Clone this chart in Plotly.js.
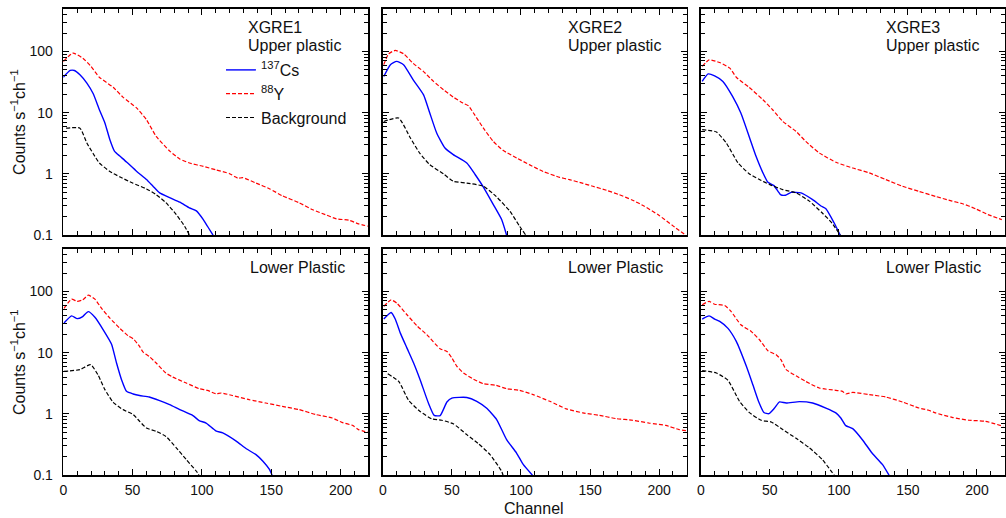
<!DOCTYPE html>
<html>
<head>
<meta charset="utf-8">
<script src="https://cdn.plot.ly/plotly-3.0.1.min.js"></script>
<style>html,body{margin:0;padding:0;background:#fff;}#plot{width:1006px;height:518px;}</style>
</head>
<body>
<div id="plot"></div>
<script>
// ---------- DATA ----------
const panelTitles = [["XGRE1","Upper plastic"],["XGRE2","Upper plastic"],["XGRE3","Upper plastic"],["Lower Plastic"],["Lower Plastic"],["Lower Plastic"]];
const seriesNames = ["<sup>137</sup>Cs","<sup>88</sup>Y","Background"];
const xTickVals = [0,50,100,150,200];
const yTickVals = [0.1,1,10,100];
const yTickText = ["0.1","1","10","100"];

// Panel 1: XGRE1 upper plastic
const cs1_x = [0,5,8,12,17,21.6,26,30,33.6,37,41,45.6,53,60,64.7,69.5,76.7,84,91,96,101,104,108];
const cs1_y = [38,49,49,41.7,30.5,20.4,11.2,6.8,3.63,2.34,1.94,1.57,1.1,0.81,0.63,0.49,0.41,0.346,0.28,0.25,0.18,0.14,0.1];
const y1_x = [0,7,14,20,26,36,43,53,60,67,77,84,91,101,110,120,123.5,126,129.5,139,149,158,170,180,189,197,206,213,220];
const y1_y = [68.7,94,78,57,38,26,18,11.9,7.7,4.1,2.34,1.76,1.51,1.33,1.17,1.01,0.91,0.85,0.87,0.71,0.57,0.44,0.34,0.26,0.217,0.185,0.176,0.153,0.14];
const bg1_x = [2,12,17,21.6,26,33.6,41,50,60,67,74,81.5,87.5,91];
const bg1_y = [5.6,5.6,3.2,2.14,1.51,1.1,0.89,0.71,0.57,0.46,0.34,0.217,0.14,0.1];

// Panel 2: XGRE2 upper plastic
const cs2_x = [0.7,5.5,10,15,22,29.5,34,39,45,51,60.8,66.8,72.8,80,86,89.6];
const cs2_y = [39,61,69,61,34.5,19.6,9.9,4.66,2.65,2.07,1.51,0.98,0.61,0.316,0.18,0.1];
const y2_x = [0.7,4.3,9,15,22,29.5,36.7,44,51,58,62,65.6,72.8,80,87,97,106,116,128,135,145,152,162,171,180,189,200,210,219.3];
const y2_y = [61,92,104,92,64,47,32.5,23.7,18,14.4,13,9.9,5.6,3.4,2.43,1.82,1.42,1.1,0.88,0.81,0.7,0.63,0.54,0.46,0.38,0.3,0.21,0.142,0.1];
const bg2_x = [0.7,11.5,20,27,34,44,51,60.8,72.8,82,92,99,103.5];
const bg2_y = [7.2,8.2,3.86,2.14,1.42,1.0,0.76,0.71,0.63,0.43,0.246,0.14,0.1];

// Panel 3: XGRE3 upper plastic
const cs3_x = [1,5.3,10,16,23,29,35,40,45,48.6,53,57.7,61.3,65.4,72.6,81,87,90.6,96.6,101];
const cs3_y = [32.5,43,40,32.5,18.5,9.9,4.1,1.94,1.04,0.73,0.645,0.46,0.45,0.5,0.49,0.38,0.3,0.27,0.158,0.1];
const y3_x = [1,6,13.7,21,25.7,35,45,52,59.4,69,76,86,98,110,122,134,146,158,170,182,189,199,208,218];
const y3_y = [57,73,66,53.5,38,26,16.3,11.2,7.2,4.96,3.4,2.19,1.55,1.25,1.04,0.81,0.63,0.52,0.43,0.36,0.33,0.27,0.217,0.18];
const bg3_x = [1,11.3,18.5,27,35,42.5,50,59.4,69,78.6,88,95,101];
const bg3_y = [5.3,4.85,3.2,1.51,1.01,0.81,0.67,0.555,0.49,0.36,0.23,0.158,0.1];

// Panel 4: XGRE1 lower plastic
const cs4_x = [0.5,6,10,14,18,22.8,28.8,34.8,38.4,42,45.6,50.4,55,62,69.5,76.7,84,93.5,98,103,110,115,124.7,132,139,144,148.7,150.6];
const cs4_y = [30.5,40,36,39,47,38,23.7,13.8,6.8,3.63,2.34,2.12,2.0,1.89,1.65,1.42,1.18,0.94,0.78,0.71,0.53,0.49,0.36,0.27,0.217,0.169,0.124,0.1];
const y4_x = [0.5,6,10,14,18,22.8,27.6,33.6,40.8,46.8,50.4,55,57.6,62,67,74,79,88.7,98,104,110,114,122,134,146,158,170,182,194,201,209,213,220];
const y4_y = [53,75,69,73,87,75,53,36.7,25,18.9,16.9,12.7,10.2,8.7,6.8,4.66,4.0,3.2,2.59,2.43,2.14,2.2,2.0,1.71,1.51,1.33,1.18,0.98,0.86,0.73,0.645,0.555,0.5];
const bg4_x = [0.5,12,19.7,25,30,36,43,50.4,55,60,67,74,81.5,88.7,96,97.8];
const bg4_y = [4.96,5.3,6.4,4.36,2.5,1.55,1.18,0.98,0.76,0.59,0.52,0.43,0.28,0.18,0.116,0.1];

// Panel 5: XGRE2 lower plastic
const cs5_x = [0.7,6,9,12.7,17.5,22.3,27,33,37.2,41.5,46.4,50,60.8,68,75,82.4,89.6,96.8,101.6,108.3];
const cs5_y = [35.5,45.5,35.5,20.9,11.9,6.8,3.63,1.51,0.95,0.94,1.57,1.82,1.86,1.61,1.25,0.81,0.38,0.23,0.15,0.1];
const y5_x = [0.7,6,10.3,17.5,24.7,32,41.5,46.4,50,53.6,58.4,65.6,72.8,82,89.6,99,108.8,120.8,132.8,144.8,156.8,168.8,180.8,192.8,204.8,214.5,220];
const y5_y = [57,73,64,41.7,27.6,19.6,11.6,10.5,8.2,6.0,4.66,3.7,3.12,2.93,2.59,2.43,2.07,1.61,1.21,1.04,0.95,0.84,0.79,0.71,0.65,0.555,0.53];
const bg5_x = [3.6,11.5,18.7,27,35.5,42.7,51,60.8,69,77.6,86,87];
const bg5_y = [4.55,3.4,1.67,1.1,0.83,0.79,0.69,0.46,0.33,0.217,0.116,0.1];

// Panel 6: XGRE3 lower plastic
const cs6_x = [1,6,10,13.7,19.7,25.7,33,37.7,42,45.7,49.3,53.4,57,61.8,71.4,81,90.6,97.8,101.4,105,110,117,124,131.5,136.3];
const cs6_y = [35.5,40,35.5,32.5,25,15.3,6.0,3.0,1.57,1.06,1.01,1.25,1.57,1.51,1.59,1.51,1.25,1.04,0.86,0.645,0.575,0.38,0.23,0.15,0.1];
const y6_x = [1,6,10,17.3,22,29,36.5,42.5,48.6,54.6,58,61.8,69,76,85.8,97.8,102.6,105,110,122,134,146,158,165,170,182,194,206,219];
const y6_y = [61,69,62,59,47,28.6,22.3,16.3,10.8,9.3,7.7,5.3,4.2,3.4,2.65,2.43,2.34,2.12,2.25,2.07,1.89,1.57,1.25,1.15,1.04,0.88,0.79,0.76,0.63];
const bg6_x = [1,11.3,19.7,28,35,43.7,51,59.4,69,78.6,88,96.6];
const bg6_y = [5.1,4.66,3.54,1.61,1.06,0.79,0.74,0.555,0.4,0.28,0.18,0.1];

// ---------- LAYOUT / STYLE ----------
const W = 1006, H = 518;
const px = v => v / W;
const py = v => 1 - v / H;
const FONT = "Liberation Sans, Arial, Helvetica, sans-serif";

const panels = [
  {cs:[cs1_x,cs1_y], y:[y1_x,y1_y], bg:[bg1_x,bg1_y]},
  {cs:[cs2_x,cs2_y], y:[y2_x,y2_y], bg:[bg2_x,bg2_y]},
  {cs:[cs3_x,cs3_y], y:[y3_x,y3_y], bg:[bg3_x,bg3_y]},
  {cs:[cs4_x,cs4_y], y:[y4_x,y4_y], bg:[bg4_x,bg4_y]},
  {cs:[cs5_x,cs5_y], y:[y5_x,y5_y], bg:[bg5_x,bg5_y]},
  {cs:[cs6_x,cs6_y], y:[y6_x,y6_y], bg:[bg6_x,bg6_y]}
];
const colPx = [[63.3,368.3],[382.8,686.8],[700.8,1004.6]];
const rowPx = [[8.7,235.2],[248.7,475.2]];
const titlePx = [[246,27,45],[566,27,45],[884,27,45],[248,267],[566,267],[884,267]];

const styles = [
  {color:"#0000ff", dash:"solid", width:1.4},
  {color:"#ff0000", dash:"4px,2px", width:1.2},
  {color:"#000000", dash:"4px,2px", width:1.2}
];

const traces = [];
const layout = {
  width: W, height: H,
  margin: {l:0, r:0, t:0, b:0},
  paper_bgcolor: "#fff", plot_bgcolor: "#fff",
  font: {family: FONT, color: "#111", size: 14},
  showlegend: true,
  legend: {x: px(221), y: py(53), xanchor: "left", yanchor: "top",
           bgcolor: "rgba(0,0,0,0)", borderwidth: 0,
           font: {family: FONT, size: 16, color: "#111"},
           itemwidth: 30, tracegroupgap: 0},
  annotations: [], shapes: []
};

const minorY = [];
[0.1,1,10,100].forEach(d => { for (let k=2;k<=9;k++){ const v=d*k; if (v<=500) minorY.push(v);} });

panels.forEach((p, i) => {
  const n = i + 1;
  const xa = n === 1 ? "x" : "x" + n;
  const ya = n === 1 ? "y" : "y" + n;
  const col = i % 3, row = Math.floor(i / 3);
  [p.cs, p.y, p.bg].forEach((s, k) => {
    traces.push({
      type: "scatter", mode: "lines", x: s[0], y: s[1],
      xaxis: xa, yaxis: ya, name: seriesNames[k],
      showlegend: i === 0, legendrank: k,
      line: {color: styles[k].color, dash: styles[k].dash, width: styles[k].width, shape: "spline", smoothing: 0.5},
      hoverinfo: "skip"
    });
  });
  const axCommon = {
    showline: true, linecolor: "#000", linewidth: 1.6, mirror: "ticks",
    ticks: "inside", ticklen: 6, tickwidth: 1, tickcolor: "#000",
    showgrid: false, zeroline: false, fixedrange: true,
    tickfont: {family: FONT, size: 14, color: "#111"}
  };
  layout["xaxis" + (n === 1 ? "" : n)] = Object.assign({}, axCommon, {
    domain: [px(colPx[col][0]), px(colPx[col][1])],
    anchor: ya, range: [0, 220],
    tickmode: "array", tickvals: xTickVals,
    showticklabels: row === 1, ticklabelstandoff: 1,
    minor: {ticks: "inside", ticklen: 4, tickwidth: 1, tickcolor: "#000", dtick: 10, tick0: 0, showgrid: false}
  });
  layout["yaxis" + (n === 1 ? "" : n)] = Object.assign({}, axCommon, {
    domain: [py(rowPx[row][1]), py(rowPx[row][0])],
    anchor: xa, type: "log", range: [-1, Math.log10(500)],
    tickmode: "array", tickvals: yTickVals, ticktext: yTickText,
    showticklabels: col === 0, ticklabelstandoff: 6,
    minor: {ticks: "inside", ticklen: 4, tickwidth: 1, tickcolor: "#000", tickmode: "array", tickvals: minorY, showgrid: false}
  });
  const t = titlePx[i];
  panelTitles[i].forEach((txt, j) => {
    layout.annotations.push({
      xref: "paper", yref: "paper", x: px(t[0]), y: py(t[1 + j]),
      xanchor: "left", yanchor: "middle", showarrow: false,
      text: txt, font: {family: FONT, size: 16, color: "#111"}
    });
  });
});

// Axis titles
[121.9, 362].forEach(cy => {
  layout.annotations.push({
    xref: "paper", yref: "paper", x: px(18), y: py(cy),
    xanchor: "center", yanchor: "middle", showarrow: false, textangle: -90,
    text: "Counts s<sup>−1</sup>ch<sup>−1</sup>", font: {family: FONT, size: 16, color: "#111"}
  });
});
layout.annotations.push({
  xref: "paper", yref: "paper", x: px(534), y: py(508),
  xanchor: "center", yanchor: "middle", showarrow: false,
  text: "Channel", font: {family: FONT, size: 16, color: "#111"}
});

Plotly.newPlot("plot", traces, layout, {staticPlot: true, displayModeBar: false});
</script>
</body>
</html>
